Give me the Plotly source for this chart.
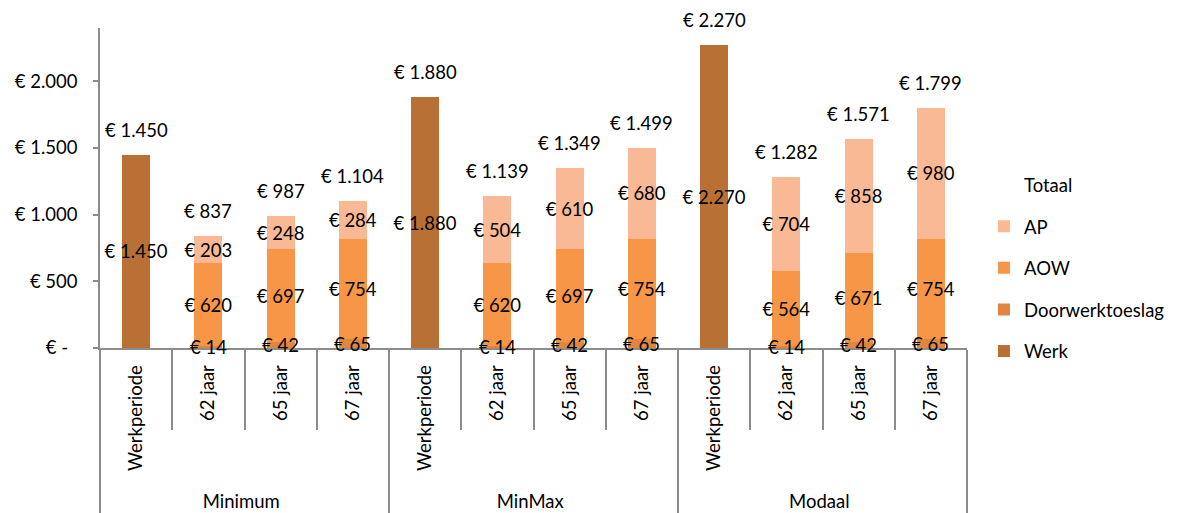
import plotly.graph_objects as go

groups = ["Minimum"] * 4 + ["MinMax"] * 4 + ["Modaal"] * 4
cats = ["Werkperiode", "62 jaar", "65 jaar", "67 jaar"] * 3

werk = [1450, None, None, None, 1880, None, None, None, 2270, None, None, None]
door = [None, 14, 42, 65, None, 14, 42, 65, None, 14, 42, 65]
aow = [None, 620, 697, 754, None, 620, 697, 754, None, 564, 671, 754]
ap = [None, 203, 248, 284, None, 504, 610, 680, None, 704, 858, 980]
totaal = [1450, 837, 987, 1104, 1880, 1139, 1349, 1499, 2270, 1282, 1571, 1799]

ytickvals = [0, 500, 1000, 1500, 2000]


def eur(v):
    if v is None:
        return ""
    if v == 0:
        return "€ -\u00a0\u00a0"
    return "€ " + f"{v:,}".replace(",", ".")


FONT = "Lato"
FS = 18.5
# leading non-breaking spaces give the rotated labels extra room below
x = [groups, ["\u00a0\u00a0" + c for c in cats]]

fig = go.Figure()
series = [
    ("Werk", werk, "#B97034", 5, True),
    ("Doorwerktoeslag", door, "#E0873F", 4, False),
    ("AOW", aow, "#F79646", 3, True),
    ("AP", ap, "#F9B994", 2, True),
]
for name, vals, col, rank, bartext in series:
    fig.add_trace(go.Bar(
        x=x, y=vals, name=name, marker=dict(color=col, line=dict(width=0)),
        text=[eur(v) for v in vals] if bartext else None,
        textposition="inside" if bartext else "none", insidetextanchor="middle",
        textangle=0, textfont=dict(family=FONT, size=FS, color="black"),
        insidetextfont=dict(family=FONT, size=FS, color="black"),
        cliponaxis=False, legendgroup=name, legendrank=rank,
    ))

fig.add_trace(go.Bar(
    x=x, y=[0] * len(totaal), name="Totaal",
    marker=dict(color="rgba(0,0,0,0)", line=dict(width=0)),
    legendgroup="Totaal", legendrank=1, hoverinfo="skip", cliponaxis=False,
))

# small bottom segment labels, centred on their segment
for g, c, d in zip(x[0], x[1], door):
    if d is not None:
        fig.add_annotation(x=[g, c], y=d / 2, text=eur(d), showarrow=False,
                           font=dict(family=FONT, size=FS, color="black"))

for g, c, t in zip(x[0], x[1], totaal):
    fig.add_annotation(x=[g, c], y=t, text=eur(t), showarrow=False, yshift=25,
                       font=dict(family=FONT, size=FS, color="black"))

fig.update_layout(
    width=1177, height=513,
    margin=dict(l=100, r=210, t=28, b=165),
    barmode="stack", bargap=0.61,
    paper_bgcolor="white", plot_bgcolor="white",
    font=dict(family=FONT, size=FS, color="black"),
    uniformtext=dict(minsize=FS, mode="show"),
    legend=dict(xref="container", x=0.836, xanchor="left", y=0.676, yanchor="top",
                yref="container",
                traceorder="grouped", tracegroupgap=14.5,
                font=dict(family=FONT, size=FS, color="black")),
    showlegend=True,
)
fig.update_yaxes(
    range=[0, 2400], tickvals=ytickvals, ticktext=[eur(v) for v in ytickvals],
    showline=True, linecolor="#8C8C8C", linewidth=1.5,
    ticks="outside", ticklen=5, tickcolor="#8C8C8C", tickwidth=1.5,
    showgrid=False, zeroline=False, ticklabelstandoff=12, layer="below traces",
)
fig.update_xaxes(
    showline=True, linecolor="#8C8C8C", linewidth=1.5,
    ticks="outside", ticklen=80, tickcolor="#8C8C8C", tickwidth=1.5,
    tickson="boundaries", tickangle=-90, showgrid=False,
    showdividers=True, dividercolor="#8C8C8C", dividerwidth=1.5,
    ticklabelstandoff=8, automargin=False, layer="below traces",
)
fig.write_html("out.html")
